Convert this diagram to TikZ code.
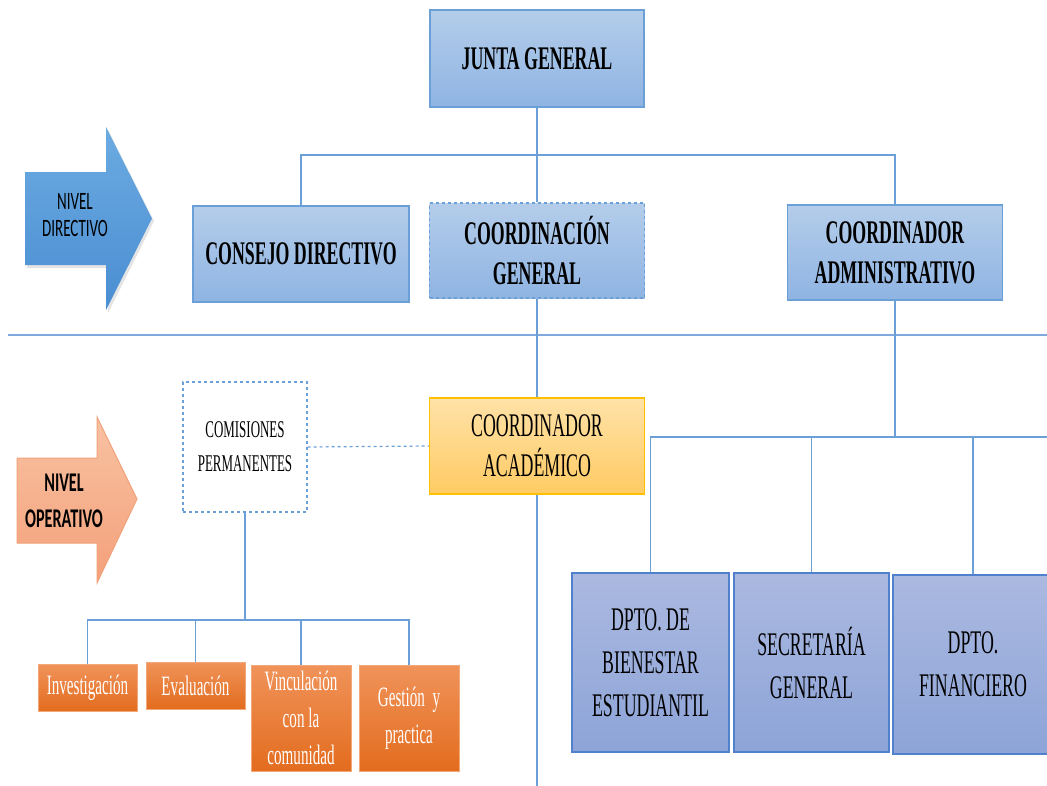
\documentclass[tikz,border=0pt]{standalone}
\usepackage{fontspec}
\setmainfont{Liberation Serif}
\newfontfamily\cond[FakeStretch=0.54]{Liberation Serif}
\newfontfamily\condsans[FakeStretch=0.6]{Carlito}
\definecolor{lnblue}{HTML}{6A9FD8}
\definecolor{sepblue}{HTML}{7FA9DD}
\definecolor{bxtop}{HTML}{B4CDEA}
\definecolor{bxbot}{HTML}{8FB4E3}
\definecolor{bxdraw}{HTML}{6A9FD8}
\definecolor{yltop}{HTML}{FFE2A8}
\definecolor{ylbot}{HTML}{FFCB63}
\definecolor{yldraw}{HTML}{FFC000}
\definecolor{dptop}{HTML}{ABB9E0}
\definecolor{dpbot}{HTML}{8DA4D8}
\definecolor{dpdraw}{HTML}{4F81CC}
\definecolor{ortop}{HTML}{F0935A}
\definecolor{orbot}{HTML}{E36C1E}
\definecolor{ordraw}{HTML}{F2A878}
\definecolor{arbtop}{HTML}{6CABE2}
\definecolor{arbbot}{HTML}{4A8ED2}
\definecolor{arotop}{HTML}{F8C2A2}
\definecolor{arobot}{HTML}{F4A07A}
\definecolor{arodraw}{HTML}{F2A27A}
\tikzset{
  conn/.style={draw=lnblue, line width=1.2pt},
  bluebox/.style={rectangle, inner sep=0pt, top color=bxtop, bottom color=bxbot,
    draw=bxdraw, line width=1.3pt, align=center,
    font=\cond\bfseries\fontsize{33}{40}\selectfont},
  yellowbox/.style={rectangle, inner sep=0pt, top color=yltop, bottom color=ylbot,
    draw=yldraw, line width=1.3pt, align=center,
    font=\cond\fontsize{33}{40}\selectfont},
  dptbox/.style={rectangle, inner sep=0pt, top color=dptop, bottom color=dpbot,
    draw=dpdraw, line width=1.3pt, align=center,
    font=\cond\fontsize{33}{43}\selectfont},
  orbox/.style={rectangle, inner sep=0pt, top color=ortop, bottom color=orbot,
    draw=ordraw, line width=1pt, align=center, text=white,
    font=\cond\fontsize{28}{37}\selectfont},
  combox/.style={rectangle, inner sep=0pt, fill=white, draw=lnblue,
    dashed, line width=1.2pt, align=center,
    font=\cond\fontsize{24}{34}\selectfont},
}
\begin{document}
\begin{tikzpicture}[x=1pt,y=-1pt]
\useasboundingbox (0,0) rectangle (1047,785);
\clip (0,0) rectangle (1047,785);
\fill[white] (0,0) rectangle (1047,785);

% level arrows
\fill[black!30, opacity=0.35] (27,175) -- (108,175) -- (108,130) -- (154,221) -- (108,313) -- (108,268) -- (27,268) -- cycle;
\path[top color=arbtop, bottom color=arbbot] (25,172) -- (106,172) -- (106,127) -- (152,218.5) -- (106,310) -- (106,265) -- (25,265) -- cycle;
\node[align=center, font=\condsans\fontsize{25}{27}\selectfont] (nivdir) at (75,215) {NIVEL\\DIRECTIVO};

\path[top color=arotop, bottom color=arobot, draw=arodraw, line width=1pt] (17,458) -- (97,458) -- (97,417) -- (137,499) -- (97,583) -- (97,543) -- (17,543) -- cycle;
\node[align=center, font=\condsans\bfseries\fontsize{27}{36}\selectfont] (nivop) at (64,501) {NIVEL\\OPERATIVO};

% separator between levels
\coordinate (sepL) at (8,335);
\coordinate (sepR) at (1047,335);
\draw[draw=sepblue, line width=1.4pt] (sepL) -- (sepR);

% directive level
\node[bluebox, minimum width=214pt, minimum height=97pt] (jg) at (537,58.5) {JUNTA GENERAL};
\node[bluebox, minimum width=216pt, minimum height=96pt] (cd) at (301,254) {CONSEJO DIRECTIVO};
\node[bluebox, dashed, minimum width=215pt, minimum height=95pt] (cg) at (537,250.5) {COORDINACIÓN\\GENERAL};
\node[bluebox, minimum width=215pt, minimum height=95pt] (cadm) at (895,252.5) {COORDINADOR\\ADMINISTRATIVO};

% operative level
\node[yellowbox, minimum width=215pt, minimum height=96pt] (cac) at (537,446) {COORDINADOR\\ACADÉMICO};
\node[combox, minimum width=124pt, minimum height=130pt] (com) at (245,447) {COMISIONES\\PERMANENTES};

\node[dptbox, minimum width=157pt, minimum height=179pt] (d1) at (650.5,662.5) {DPTO. DE\\BIENESTAR\\ESTUDIANTIL};
\node[dptbox, minimum width=155pt, minimum height=179pt] (d2) at (811.5,662.5) {SECRETARÍA\\GENERAL};
\node[dptbox, minimum width=160pt, minimum height=179pt] (d3) at (973,664.5) {DPTO.\\FINANCIERO};

\node[orbox, minimum width=99pt, minimum height=47pt] (o1) at (87.5,687.5) {Investigación};
\node[orbox, minimum width=99pt, minimum height=47pt] (o2) at (195.5,685.5) {Evaluación};
\node[orbox, minimum width=100pt, minimum height=106pt] (o3) at (301,718) {Vinculación\\con la\\comunidad};
\node[orbox, minimum width=100pt, minimum height=106pt] (o4) at (409,718) {Gestión\ \ y\\practica};

% connectors
\coordinate (j1) at (537,155);
\draw[conn] (jg.south) -- (j1);
\draw[conn] (cd.north) |- (j1) -| (cadm.north);
\draw[conn] (j1) -- (cg.north);

\draw[conn] (cg.south) -- (cac.north);
\coordinate (cbot) at (537,786);
\draw[conn] (cac.south) -- (cbot);
\draw[conn, dashed] (com.east) -- (cac.west);

\coordinate (j2) at (1047,437);
\draw[conn] (cadm.south) -- (cadm.south |- j2);
\draw[conn] (d1.north) |- (j2);
\draw[conn] (d2.north) -- (d2.north |- j2);
\draw[conn] (d3.north) -- (d3.north |- j2);

\coordinate (j3) at (245,620);
\draw[conn] (com.south) -- (j3);
\draw[conn] (o1.north) |- (j3) -| (o4.north);
\draw[conn] (o2.north) -- (o2.north |- j3);
\draw[conn] (o3.north) -- (o3.north |- j3);
\end{tikzpicture}
\end{document}
